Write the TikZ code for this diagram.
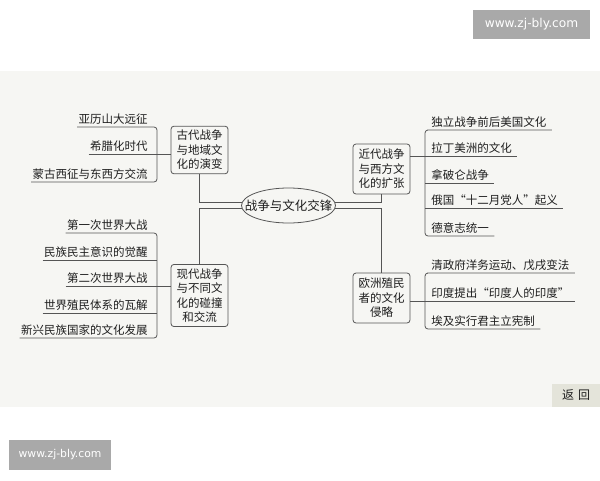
\documentclass[tikz,border=0pt]{standalone}
\usepackage{fontspec}
\setmainfont{Noto Sans CJK SC}
\newfontfamily\wmfont{DejaVu Sans}
\usetikzlibrary{shapes}

\definecolor{panelbg}{HTML}{F6F6F3}
\definecolor{linegray}{HTML}{555555}
\definecolor{inkgray}{HTML}{1E1E1E}
\definecolor{wmgray}{HTML}{A9A9A9}
\definecolor{btnbg}{HTML}{E4E4DA}

\begin{document}
\begin{tikzpicture}[x=1pt,y=-1pt,line width=0.8pt]
\tikzstyle{topic}=[ellipse,draw=linegray,fill=panelbg,text=inkgray,minimum width=94pt,minimum height=35pt,inner sep=0pt,font=\fontsize{12.5}{15}\selectfont]
\tikzstyle{subj}=[rectangle,rounded corners=3pt,draw=linegray,fill=panelbg,text=inkgray,align=center,inner xsep=5.5pt,inner ysep=4pt,font=\fontsize{11.5}{14.5}\selectfont]
\tikzstyle{leaf}=[text=inkgray,inner xsep=1pt,inner ysep=2pt,text height=10pt,text depth=1pt,font=\fontsize{11.5}{14}\selectfont]
\tikzstyle{leafl}=[leaf,anchor=south east]
\tikzstyle{leafr}=[leaf,anchor=south west]
\tikzstyle{conn}=[draw=linegray]
\tikzstyle{wmark}=[fill=wmgray,text=white,inner sep=0pt,font=\wmfont]
\useasboundingbox (0,0) rectangle (600,480);
\fill[white] (0,0) rectangle (600,480);
\fill[panelbg] (0,71) rectangle (600,407);

\node[wmark,minimum width=117pt,minimum height=29pt,font=\wmfont\fontsize{12.2}{14}\selectfont](wm1) at (531.5,24.5) {www.zj-bly.com};
\node[wmark,minimum width=102pt,minimum height=30pt,font=\wmfont\fontsize{10.8}{13}\selectfont](wm2) at (60,455) {www.zj-bly.com};
\node[fill=btnbg,text=inkgray,minimum width=48pt,minimum height=23pt,inner sep=0pt,font=\fontsize{12}{14}\selectfont](back) at (576,395.5) {返\hspace{4pt}回};

\node[topic](T) at (288.5,205.5) {\makebox[0pt]{战争与文化交锋}};
\node[subj](A) at (199.5,150) {古代战争\\与地域文\\化的演变};
\node[subj](D) at (199.5,295.5) {现代战争\\与不同文\\化的碰撞\\和交流};
\node[subj,minimum height=50pt](B) at (381.5,169) {近代战争\\与西方文\\化的扩张};
\node[subj,minimum height=50pt](C) at (381.5,298) {欧洲殖民\\者的文化\\侵略};

\node[leafl](a1) at (149,127) {亚历山大远征};
\node[leafl](a2) at (149,154) {希腊化时代};
\node[leafl](a3) at (149,182) {蒙古西征与东西方交流};

\node[leafl](d1) at (149,233) {第一次世界大战};
\node[leafl](d2) at (149,260) {民族民主意识的觉醒};
\node[leafl](d3) at (149,286) {第二次世界大战};
\node[leafl](d4) at (149,313) {世界殖民体系的瓦解};
\node[leafl](d5) at (149,338) {新兴民族国家的文化发展};

\node[leafr](b1) at (430,130) {独立战争前后美国文化};
\node[leafr](b2) at (430,156) {拉丁美洲的文化};
\node[leafr](b3) at (430,183) {拿破仑战争};
\node[leafr](b4) at (430,208) {俄国“十二月党人”起义};
\node[leafr](b5) at (430,236) {德意志统一};

\node[leafr](c1) at (430,273) {清政府洋务运动、戊戌变法};
\node[leafr](c2) at (430,301) {印度提出“印度人的印度”};
\node[leafr](c3) at (430,329) {埃及实行君主立宪制};

\draw[conn] (A.south) |- (T.176);
\draw[conn] (D.north) |- (T.184);
\draw[conn] (B.south) |- (T.4);
\draw[conn] (C.north) |- (T.356);

\draw[conn,rounded corners=3pt] (a1.south west) -- (a1.south east) -- ++(8,0) |- (a3.south west);
\draw[conn] (a2.south west) -- (a2.south -| A.west);

\draw[conn,rounded corners=3pt] (d1.south west) -- (d1.south east) -- ++(8,0) coordinate (bd) |- (d5.south west);
\draw[conn] (d2.south west) -- (d2.south -| bd);
\draw[conn] (d3.south west) -- (d3.south -| D.west);
\draw[conn] (d4.south west) -- (d4.south -| bd);

\draw[conn,rounded corners=3pt] ([xshift=4pt]b1.south east) -- (b1.south west) -- ++(-5,0) coordinate (bb) |- ([xshift=4pt]b5.south east);
\draw[conn] (B.east |- b2.south) -- ([xshift=4pt]b2.south east);
\draw[conn] (bb |- b3.south) -- ([xshift=4pt]b3.south east);
\draw[conn] (bb |- b4.south) -- ([xshift=4pt]b4.south east);

\draw[conn,rounded corners=3pt] ([xshift=4pt]c1.south east) -- (c1.south west) -- ++(-5,0) |- ([xshift=4pt]c3.south east);
\draw[conn] (C.east |- c2.south) -- ([xshift=4pt]c2.south east);
\end{tikzpicture}
\end{document}
